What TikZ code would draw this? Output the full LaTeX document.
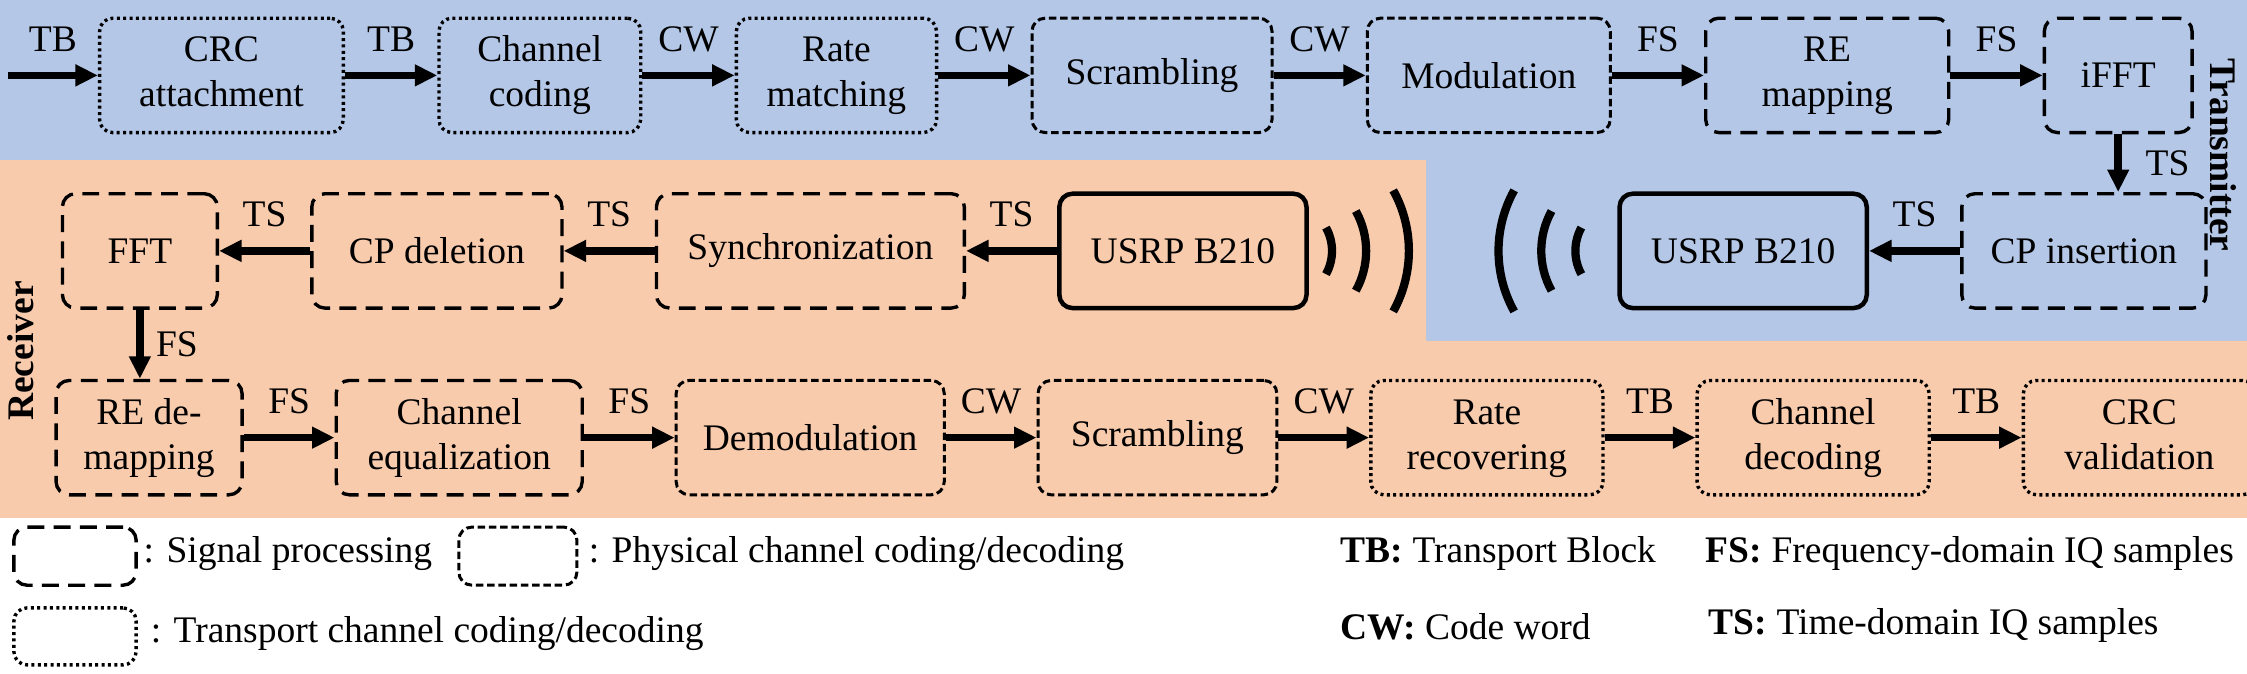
\documentclass[tikz,border=0pt]{standalone}
\usepackage{fontspec}
\setmainfont{Liberation Serif}
\usetikzlibrary{matrix,arrows.meta,positioning}

\definecolor{txblue}{HTML}{B4C7E7}
\definecolor{rxorange}{HTML}{F8CBAD}

\newcommand{\blocktext}[2]{\begin{tabular}{@{}c@{}}#1\\#2\end{tabular}}

\begin{document}
\begin{tikzpicture}[
  blk/.style={rounded corners=3.5pt,minimum height=30.5pt,inner sep=1pt},
  sig/.style={blk,draw,line width=0.9pt,dash pattern=on 4.5pt off 2.5pt},
  phy/.style={blk,draw,line width=0.8pt,dash pattern=on 2pt off 1pt},
  trp/.style={blk,draw,line width=0.9pt,dash pattern=on 0.8pt off 0.9pt},
  hw/.style={blk,draw,line width=1.2pt},
  blockrow/.style={matrix of nodes,anchor=west,inner sep=0pt,nodes={anchor=center}},
  flow/.style={-{Triangle[length=6pt,width=5.5pt]},line width=2pt},
  wave/.style={line width=2.2pt}
]
\useasboundingbox (0,0) rectangle (599.2pt,-179.5pt);
% background panels
\fill[txblue] (0,0) -- (599.2pt,0) -- (599.2pt,-90.9pt) -- (380.3pt,-90.9pt)
  -- (380.3pt,-42.7pt) -- (0,-42.7pt) -- cycle;
\fill[rxorange] (0,-42.7pt) -- (380.3pt,-42.7pt) -- (380.3pt,-90.9pt)
  -- (599.2pt,-90.9pt) -- (599.2pt,-138.1pt) -- (0,-138.1pt) -- cycle;

\matrix (tx) [blockrow,column sep=24.6pt] at (25.9pt,-20.1pt)
{
  |[trp,minimum width=65pt]| \blocktext{CRC}{attachment} &
  |[trp,minimum width=53.8pt]| \blocktext{Channel}{coding} &
  |[trp,minimum width=53.4pt]| \blocktext{Rate}{matching} &
  |[phy,minimum width=64pt]| Scrambling &
  |[phy,minimum width=64.8pt]| Modulation &
  |[sig,minimum width=64.8pt]| \blocktext{RE}{mapping} &
  |[sig,minimum width=39.4pt]| iFFT \\
};
\matrix (air) [blockrow,column sep=24.3pt] at (16pt,-66.9pt)
{
  |[sig,minimum width=41.3pt]| FFT &
  |[sig,minimum width=66.7pt]| CP deletion &
  |[sig,minimum width=82.1pt]| Synchronization &
  |[hw,minimum width=65.9pt]| USRP B210 &[58pt]
  |[hw,minimum width=65.9pt]| USRP B210 &
  |[sig,minimum width=65.1pt]| CP insertion \\
};
\matrix (rx) [blockrow,column sep=24.2pt] at (14.3pt,-116.7pt)
{
  |[sig,minimum width=49.6pt]| \blocktext{RE de-}{mapping} &
  |[sig,minimum width=65.6pt]| \blocktext{Channel}{equalization} &
  |[phy,minimum width=71.5pt]| Demodulation &
  |[phy,minimum width=63.7pt]| Scrambling &
  |[trp,minimum width=61.9pt]| \blocktext{Rate}{recovering} &
  |[trp,minimum width=61.9pt]| \blocktext{Channel}{decoding} &
  |[trp,minimum width=61.9pt]| \blocktext{CRC}{validation} \\
};

\coordinate (src) at ([xshift=-24pt]tx-1-1.west);
\path[flow]
  (src) edge node [above=2pt] {TB} (tx-1-1)
  (tx-1-1) edge node [above=2pt] {TB} (tx-1-2)
  (tx-1-2) edge node [above=2pt] {CW} (tx-1-3)
  (tx-1-3) edge node [above=2pt] {CW} (tx-1-4)
  (tx-1-4) edge node [above=2pt] {CW} (tx-1-5)
  (tx-1-5) edge node [above=2pt] {FS} (tx-1-6)
  (tx-1-6) edge node [above=2pt] {FS} (tx-1-7)
  (tx-1-7) edge node [right=3pt] {TS} (tx-1-7.south|-air-1-6.north)
  (air-1-6) edge node [above=2pt] {TS} (air-1-5)
  (air-1-4) edge node [above=2pt] {TS} (air-1-3)
  (air-1-3) edge node [above=2pt] {TS} (air-1-2)
  (air-1-2) edge node [above=2pt] {TS} (air-1-1)
  (air-1-1) edge node [right] {FS} (air-1-1.south|-rx-1-1.north)
  (rx-1-1) edge node [above=2pt] {FS} (rx-1-2)
  (rx-1-2) edge node [above=2pt] {FS} (rx-1-3)
  (rx-1-3) edge node [above=2pt] {CW} (rx-1-4)
  (rx-1-4) edge node [above=2pt] {CW} (rx-1-5)
  (rx-1-5) edge node [above=2pt] {TB} (rx-1-6)
  (rx-1-6) edge node [above=2pt] {TB} (rx-1-7);

% radio waves
\foreach \r in {12.8,21.9,33.3}
{
  \draw[wave] ([xshift=-6.6pt]air-1-4.east) ++(-29:\r pt) arc (-29:29:\r pt);
  \draw[wave] ([xshift=1.6pt]air-1-5.west) ++(151:\r pt) arc (151:209:\r pt);
}

\node[rotate=-90,font=\bfseries] (txlabel) at (592.9pt,-41.3pt) {Transmitter};
\node[rotate=90,font=\bfseries] (rxlabel) at (5.4pt,-93.6pt) {Receiver};

% legend
\node[sig,minimum width=32.6pt,minimum height=15.5pt] (keysig) at (20pt,-148.3pt) {};
\node[anchor=base west,inner sep=0pt] (keysigtxt) at (38.1pt,-150.1pt) {: Signal processing};
\node[phy,minimum width=31.5pt,minimum height=15.5pt] (keyphy) at (138.1pt,-148.3pt) {};
\node[anchor=base west,inner sep=0pt] (keyphytxt) at (156.8pt,-150.1pt) {: Physical channel coding/decoding};
\node[trp,minimum width=32.6pt,minimum height=15.2pt] (keytrp) at (20pt,-169.7pt) {};
\node[anchor=base west,inner sep=0pt] (keytrptxt) at (40pt,-171.2pt) {: Transport channel coding/decoding};

\node[anchor=base west,inner sep=0pt] (keytb) at (357.3pt,-150.1pt) {\textbf{TB:} Transport Block};
\node[anchor=base west,inner sep=0pt] (keycw) at (357.3pt,-170.6pt) {\textbf{CW:} Code word};
\node[anchor=base west,inner sep=0pt] (keyfs) at (454.7pt,-150.1pt) {\textbf{FS:} Frequency-domain IQ samples};
\node[anchor=base west,inner sep=0pt] (keyts) at (455.5pt,-169.2pt) {\textbf{TS:} Time-domain IQ samples};
\end{tikzpicture}
\end{document}
